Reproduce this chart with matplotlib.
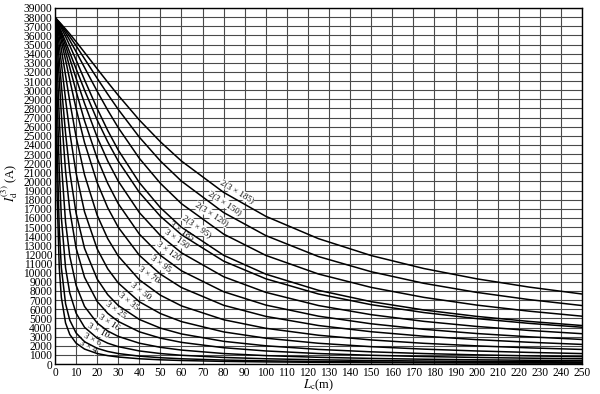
import matplotlib
matplotlib.use('Agg')
import matplotlib.pyplot as plt
import numpy as np

plt.rcParams['font.family'] = ['Liberation Serif', 'DejaVu Serif']
plt.rcParams['mathtext.fontset'] = 'stix'

# cable length (m)
length_m = [0, 1, 2, 3, 5, 7, 10, 14, 20, 25, 30, 40, 50, 60, 80, 100, 125, 150, 175, 200, 225, 250]

# three-phase short-circuit current (A) for each cable
i_3x4 = [38000, 18400, 10560, 7307, 4494, 3239, 2282, 1636, 1148, 920, 767, 576, 461, 384, 288, 231, 185, 154, 132, 115, 103, 92]
i_3x6 = [38000, 23660, 14830, 10560, 6618, 4802, 3397, 2442, 1717, 1376, 1148, 862, 691, 576, 432, 346, 277, 231, 198, 173, 154, 138]
i_3x10 = [38000, 29450, 21260, 16070, 10540, 7782, 5564, 4024, 2840, 2281, 1905, 1432, 1148, 958, 719, 576, 461, 384, 329, 288, 256, 231]
i_3x16 = [38000, 33080, 27030, 22050, 15540, 11820, 8623, 6310, 4488, 3614, 3025, 2280, 1829, 1527, 1148, 919, 736, 614, 526, 461, 410, 369]
i_3x25 = [38000, 35110, 31250, 27390, 21130, 16830, 12710, 9502, 6853, 5552, 4662, 3528, 2837, 2372, 1786, 1431, 1147, 957, 821, 719, 639, 575]
i_3x35 = [38000, 36030, 33410, 30570, 25270, 21040, 16520, 12670, 9307, 7598, 6410, 4880, 3934, 3295, 2486, 1996, 1600, 1336, 1146, 1004, 893, 804]
i_3x50 = [38000, 36640, 34920, 32980, 28990, 25350, 20910, 16670, 12610, 10430, 8874, 6819, 5528, 4644, 3517, 2829, 2273, 1899, 1631, 1429, 1271, 1145]
i_3x70 = [38000, 37000, 35820, 34490, 31620, 28760, 24890, 20730, 16300, 13730, 11830, 9221, 7538, 6365, 4850, 3914, 3152, 2638, 2268, 1989, 1769, 1595]
i_3x95 = [38000, 37210, 36350, 35390, 33300, 31130, 27980, 24260, 19870, 17120, 14980, 11910, 9843, 8375, 6435, 5218, 4217, 3538, 3046, 2674, 2383, 2148]
i_3x120 = [38000, 37330, 36620, 35860, 34210, 32480, 29880, 26640, 22530, 19790, 17560, 14230, 11900, 10210, 7918, 6457, 5240, 4407, 3801, 3341, 2981, 2690]
i_3x150 = [38000, 37420, 36820, 36200, 34860, 33440, 31300, 28550, 24850, 22240, 20030, 16590, 14070, 12180, 9560, 7849, 6405, 5405, 4673, 4116, 3676, 3321]
i_3x185 = [38000, 37480, 36960, 36430, 35310, 34130, 32340, 30000, 26730, 24340, 22230, 18800, 16180, 14160, 11270, 9336, 7669, 6500, 5637, 4976, 4452, 4028]
i_2x3x95 = [38000, 37600, 37210, 36790, 35880, 34880, 33300, 31130, 27980, 25580, 23430, 19870, 17120, 14980, 11910, 9843, 8071, 6831, 5919, 5218, 4665, 4217]
i_2x3x120 = [38000, 37660, 37330, 36990, 36250, 35460, 34210, 32480, 29880, 27810, 25890, 22530, 19790, 17560, 14230, 11900, 9857, 8393, 7300, 6457, 5786, 5240]
i_2x3x150 = [38000, 37690, 37420, 37130, 36510, 35870, 34860, 33440, 31300, 29560, 27890, 24850, 22240, 20030, 16590, 14070, 11770, 10110, 8840, 7849, 7055, 6405]
i_2x3x185 = [38000, 37720, 37480, 37220, 36700, 36160, 35310, 34130, 32340, 30870, 29430, 26730, 24340, 22230, 18800, 16180, 13730, 11880, 10460, 9336, 8424, 7669]

curve_names = ["3 × 4", "3 × 6", "3 × 10", "3 × 16", "3 × 25", "3 × 35", "3 × 50", "3 × 70",
               "3 × 95", "3 × 120", "3 × 150", "3 × 185",
               "2(3 × 95)", "2(3 × 120)", "2(3 × 150)", "2(3 × 185)"]
curve_values = [i_3x4, i_3x6, i_3x10, i_3x16, i_3x25, i_3x35, i_3x50, i_3x70,
                i_3x95, i_3x120, i_3x150, i_3x185,
                i_2x3x95, i_2x3x120, i_2x3x150, i_2x3x185]

# label position along the length axis and angle for each curve label
label_x = [15.8, 17.4, 20.5, 25.3, 28.5, 34.8, 40.3, 44.3, 49.8, 53.8, 57.7, 60.1, 67.2, 74.3, 80.6, 86.2]
label_rot = [-28, -28, -29, -33, -36, -39, -37, -35, -36, -36, -35, -35, -35, -33, -33, -31]

x_ticks = list(range(0, 251, 10))
y_ticks = list(range(0, 39001, 1000))

fig = plt.figure(figsize=(6.0, 3.94), dpi=100)
ax = fig.add_axes([0.0917, 0.0761, 0.8783, 0.9036])

for vals in curve_values:
    ax.plot(length_m, vals, color='black', lw=1.1, zorder=2, solid_joinstyle='round')

# each label sits just above its own curve, between it and the next curve
for k, (name, lx, rot) in enumerate(zip(curve_names, label_x, label_rot)):
    own = np.interp(lx, length_m, curve_values[k])
    if k + 1 < len(curve_values):
        upper = np.interp(lx, length_m, curve_values[k + 1])
        ly = 0.5 * (own + upper)
    else:
        ly = own + 900
    ax.text(lx, ly, name, rotation=rot, rotation_mode='anchor', ha='center', va='center',
            fontsize=6.5, zorder=1.5,
            bbox=dict(facecolor='white', edgecolor='none', pad=0.3))

ax.set_xlim(0, 250)
ax.set_ylim(0, 39000)
ax.set_xticks(x_ticks)
ax.set_yticks(y_ticks)
ax.set_xticklabels([str(v) for v in x_ticks])
ax.set_yticklabels([str(v) for v in y_ticks])
ax.tick_params(axis='both', length=0, labelsize=8.3, pad=2)
ax.set_axisbelow(True)
ax.grid(True, color='#4a4a4a', lw=0.8)
for sp in ax.spines.values():
    sp.set_color('black')
    sp.set_linewidth(1.0)

ax.set_xlabel(r'$L_{\rm c}$(m)', fontsize=9, labelpad=-1)
ax.set_ylabel(r'$I_{\rm d}^{(3)}$ (A)', fontsize=9)
ax.yaxis.set_label_coords(-0.066, 0.51)

fig.savefig('out.png', dpi=100)
